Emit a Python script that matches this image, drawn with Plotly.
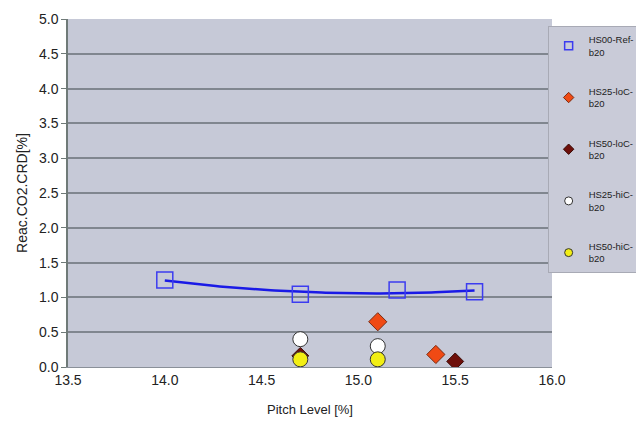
import numpy as np
import plotly.graph_objects as go

ref_x = [14.0, 14.7, 15.2, 15.6]
ref_y = [1.25, 1.045, 1.105, 1.08]
lo25_x = [15.1, 15.4]
lo25_y = [0.65, 0.18]
lo50_x = [14.7, 15.5]
lo50_y = [0.16, 0.08]
hi25_x = [14.7, 15.1]
hi25_y = [0.40, 0.30]
hi50_x = [14.7, 15.1]
hi50_y = [0.11, 0.11]

names = ["HS00-Ref-<br>b20", "HS25-loC-<br>b20", "HS50-loC-<br>b20", "HS25-hiC-<br>b20", "HS50-hiC-<br>b20"]
y_ticks = [0.0, 0.5, 1.0, 1.5, 2.0, 2.5, 3.0, 3.5, 4.0, 4.5, 5.0]
x_ticks = [13.5, 14.0, 14.5, 15.0, 15.5, 16.0]

# 2nd-order polynomial trendline for the reference series
coef = np.polyfit(ref_x, ref_y, 2)
tx = np.linspace(min(ref_x), max(ref_x), 80)
ty = np.polyval(coef, tx)

styles = [
    dict(symbol="square-open", color="#3c3cf0", line=dict(width=1.5)),
    dict(symbol="diamond", color="#f04a14", line=dict(color="#7a2a10", width=1)),
    dict(symbol="diamond", color="#6e0f0a", line=dict(color="#3a0a05", width=1)),
    dict(symbol="circle", color="#ffffff", line=dict(color="#333333", width=1)),
    dict(symbol="circle", color="#f2ee14", line=dict(color="#333333", width=1)),
]

fig = go.Figure()
fig.add_trace(go.Scatter(x=tx, y=ty, mode="lines", showlegend=False, hoverinfo="skip",
                         line=dict(color="#1a1ae6", width=2.5)))
fig.add_trace(go.Scatter(x=ref_x, y=ref_y, mode="markers", showlegend=False,
                         marker=dict(size=16, **styles[0])))
fig.add_trace(go.Scatter(x=lo50_x, y=lo50_y, mode="markers", showlegend=False,
                         marker=dict(size=13, **styles[2])))
fig.add_trace(go.Scatter(x=lo25_x, y=lo25_y, mode="markers", showlegend=False,
                         marker=dict(size=14, **styles[1])))
fig.add_trace(go.Scatter(x=hi25_x, y=hi25_y, mode="markers", showlegend=False,
                         marker=dict(size=15, **styles[3])))
fig.add_trace(go.Scatter(x=hi50_x, y=hi50_y, mode="markers", showlegend=False,
                         marker=dict(size=15, **styles[4])))
# legend entries
for i, (n, s) in enumerate(zip(names, styles)):
    fig.add_trace(go.Scatter(x=[None], y=[None], mode="markers", name=n, legendgroup=str(i),
                             legendrank=i + 1, marker=dict(size=8, **s)))

fig.update_layout(
    width=636, height=425,
    margin=dict(l=68, r=84, t=19, b=58, autoexpand=False),
    paper_bgcolor="white",
    plot_bgcolor="#c6c9d7",
    font=dict(family="Liberation Sans, Arial, sans-serif", color="#222222"),
    legend=dict(x=0.991, xanchor="left", y=0.98, yanchor="top",
                bgcolor="#c9cbd8", bordercolor="#a8aab5", borderwidth=1,
                font=dict(size=9.5, color="#222222"), tracegroupgap=24,
                traceorder="grouped", itemwidth=30),
    xaxis=dict(title=dict(text="Pitch Level [%]", font=dict(size=13), standoff=18),
               range=[13.5, 16.0], tickvals=x_ticks, ticktext=[f"{v:.1f}" for v in x_ticks],
               tickfont=dict(size=14), showgrid=False, zeroline=False, automargin=False,
               showline=True, linecolor="#8a9099", linewidth=1, ticks=""),
    yaxis=dict(title=dict(text="Reac.CO2.CRD[%]", font=dict(size=14), standoff=8),
               range=[0, 5.0], tickvals=y_ticks, ticktext=[f"{v:.1f}" for v in y_ticks],
               tickfont=dict(size=14), showgrid=True, gridcolor="#80868f", gridwidth=1.5,
               zeroline=False, showline=True, linecolor="#6f7a78", linewidth=1.5, automargin=False,
               ticks="outside", ticklen=5, tickcolor="#6f7a78"),
)

fig.write_html("out.html", config={"displayModeBar": False},
               post_script="document.body.style.margin='0px';")
